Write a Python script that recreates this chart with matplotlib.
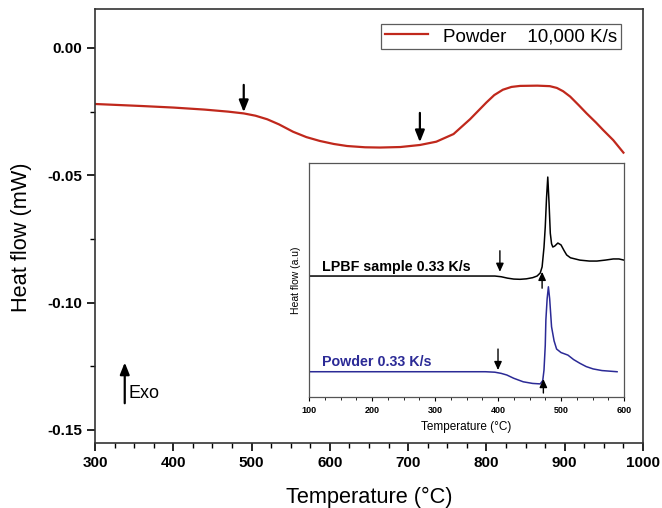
import matplotlib
matplotlib.use("Agg")
import matplotlib.pyplot as plt
from matplotlib.ticker import MultipleLocator, FormatStrFormatter

plt.rcParams["font.family"] = ["Liberation Sans", "DejaVu Sans"]

# Main DSC trace, powder at 10,000 K/s
temp_fast = [300, 330, 360, 400, 440, 470, 490, 505, 520, 535, 553, 570,
             587, 605, 622, 645, 664, 690, 715, 736, 758, 779, 800, 810,
             821, 832, 843, 865, 881, 890, 898, 907, 918, 928, 940, 949,
             962, 975]
flow_fast = [-0.0220, -0.0224, -0.0228, -0.0234, -0.0242, -0.0250, -0.0257,
             -0.0266, -0.0280, -0.0300, -0.0329, -0.0350, -0.0365, -0.0377,
             -0.0385, -0.0390, -0.0391, -0.0389, -0.0381, -0.0368, -0.0338,
             -0.0280, -0.0214, -0.0185, -0.0164, -0.0153, -0.0149, -0.0148,
             -0.0150, -0.0157, -0.0170, -0.0191, -0.0225, -0.0257, -0.0293,
             -0.0322, -0.0362, -0.0411]

# Inset traces at 0.33 K/s (arbitrary units)
temp_lpbf = [100, 200, 300, 380, 395, 405, 415, 425, 435, 445, 455, 462,
             467, 470, 473, 475, 477, 479, 481, 483, 485, 487, 490, 495,
             500, 505, 509, 515, 530, 545, 557, 570, 583, 592, 600]
flow_lpbf = [0.517, 0.517, 0.517, 0.517, 0.517, 0.514, 0.508, 0.504, 0.503,
             0.505, 0.510, 0.517, 0.530, 0.556, 0.640, 0.727, 0.850, 0.940,
             0.830, 0.700, 0.655, 0.641, 0.645, 0.658, 0.650, 0.625, 0.607,
             0.595, 0.585, 0.581, 0.581, 0.585, 0.590, 0.590, 0.585]
temp_powder = [100, 200, 300, 380, 395, 405, 414, 425, 440, 455, 467, 471,
               473, 475, 476, 478, 480, 482, 485, 489, 493, 500, 511, 520,
               530, 540, 551, 565, 589]
flow_powder = [0.108, 0.108, 0.108, 0.108, 0.106, 0.101, 0.094, 0.080,
               0.065, 0.058, 0.056, 0.070, 0.115, 0.220, 0.330, 0.420,
               0.471, 0.420, 0.300, 0.240, 0.205, 0.190, 0.179, 0.160,
               0.144, 0.130, 0.120, 0.113, 0.108]

# Arrow markers: (x, y_start, y_end)
main_arrows = [(490, -0.0145, -0.0252), (715, -0.0255, -0.0370)]
exo_arrow = (338, -0.1395, -0.1235)
inset_down = [(403, 0.625, 0.535), (400, 0.205, 0.115)]
inset_up = [(470, 0.465, 0.535), (472, 0.017, 0.077)]

red = "#c0281c"
navy = "#2b2a96"

fig = plt.figure(figsize=(6.62, 5.08), dpi=100)
ax = fig.add_axes([0.1435, 0.128, 0.8278, 0.8543])
ax.plot(temp_fast, flow_fast, color=red, lw=1.6, label="Powder    10,000 K/s")
ax.set_xlim(300, 1000)
ax.set_ylim(-0.1551, 0.0153)
ax.xaxis.set_major_locator(MultipleLocator(100))
ax.xaxis.set_minor_locator(MultipleLocator(25))
ax.yaxis.set_major_locator(MultipleLocator(0.05))
ax.yaxis.set_minor_locator(MultipleLocator(0.025))
ax.yaxis.set_major_formatter(FormatStrFormatter("%.2f"))
ax.tick_params(which="major", direction="out", length=6, width=1.2,
               labelsize=11)
ax.tick_params(which="minor", direction="out", length=3.5, width=1)
for lab in ax.get_xticklabels() + ax.get_yticklabels():
    lab.set_fontweight("bold")
for s in ax.spines.values():
    s.set_color("#333333")
    s.set_linewidth(1.2)
ax.set_xlabel("Temperature (°C)", fontsize=15.7, labelpad=12)
ax.set_ylabel("Heat flow (mW)", fontsize=15.7)
ax.yaxis.set_label_coords(-0.115, 0.475)

arrow_big = "-|>,head_length=0.5,head_width=0.2"
for x, y0, y1 in main_arrows + [exo_arrow]:
    ax.annotate("", xy=(x, y1), xytext=(x, y0),
                arrowprops=dict(arrowstyle=arrow_big, color="black", lw=1.6,
                                mutation_scale=14, shrinkA=0, shrinkB=0))
ax.text(343, -0.1357, "Exo", fontsize=13, va="center", ha="left")

leg = ax.legend(loc="upper right", fontsize=13.5, frameon=True,
                fancybox=False, handlelength=2.3, borderpad=0.2,
                handletextpad=0.8, borderaxespad=0,
                bbox_to_anchor=(0.96, 0.965))
leg.get_frame().set_edgecolor("#333333")
leg.get_frame().set_linewidth(0.9)

# Inset with the slow-rate traces
ins = fig.add_axes([0.4668, 0.2185, 0.4758, 0.4606])
ins.plot(temp_lpbf, flow_lpbf, color="black", lw=1.1)
ins.plot(temp_powder, flow_powder, color=navy, lw=1.1)
ins.set_xlim(100, 600)
ins.set_ylim(0, 1)
ins.set_yticks([])
ins.xaxis.set_major_locator(MultipleLocator(100))
ins.xaxis.set_minor_locator(MultipleLocator(25))
ins.tick_params(which="major", direction="out", length=3, width=0.8,
                labelsize=6.5)
ins.tick_params(which="minor", direction="out", length=2, width=0.6)
for lab in ins.get_xticklabels():
    lab.set_fontweight("bold")
for s in ins.spines.values():
    s.set_color("#555555")
    s.set_linewidth(0.9)
ins.set_xlabel("Temperature (°C)", fontsize=8.5, labelpad=4)
ins.set_ylabel("Heat flow (a.u)", fontsize=7.5, labelpad=6)

arrow_small = "-|>,head_length=0.55,head_width=0.25"
for x, y0, y1 in inset_down + inset_up:
    ins.annotate("", xy=(x, y1), xytext=(x, y0),
                 arrowprops=dict(arrowstyle=arrow_small, color="black",
                                 lw=1.0, mutation_scale=9, shrinkA=0,
                                 shrinkB=0))
ins.text(120, 0.555, "LPBF sample 0.33 K/s", fontsize=10.3,
         fontweight="bold", color="black", va="center")
ins.text(121, 0.149, "Powder 0.33 K/s", fontsize=10.3, fontweight="bold",
         color=navy, va="center")

fig.savefig("out.png", dpi=100)
